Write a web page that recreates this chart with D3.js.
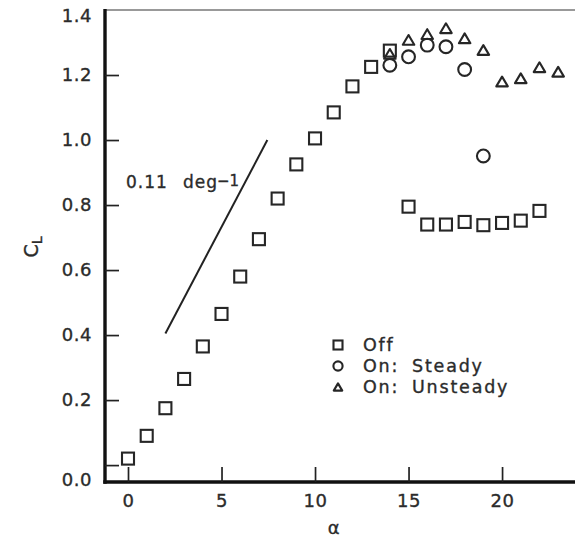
<!DOCTYPE html>
<html>
<head>
<meta charset="utf-8">
<script src="https://cdn.jsdelivr.net/npm/d3@7/dist/d3.min.js"></script>
<style>
  html, body { margin: 0; padding: 0; background: #fff; }
  svg { display: block; }
  text { font-family: "DejaVu Sans", Verdana, sans-serif; fill: #2b2b2b; stroke: #2b2b2b; stroke-width: 0.35px; }
</style>
</head>
<body>
<svg id="chart" width="575" height="540"></svg>
<script>
// ---- data ----
const alphaOff = [0, 1, 2, 3, 4, 5, 6, 7, 8, 9, 10, 11, 12, 13, 14, 15, 16, 17, 18, 19, 20, 21, 22];
const clOff    = [0.02, 0.09, 0.175, 0.265, 0.365, 0.465, 0.58, 0.695, 0.82, 0.925, 1.005, 1.085, 1.165, 1.225, 1.275,
                  0.795, 0.74, 0.74, 0.748, 0.738, 0.745, 0.752, 0.782];
const alphaSteady = [14, 15, 16, 17, 18, 19];
const clSteady    = [1.23, 1.256, 1.292, 1.287, 1.217, 0.951];
const alphaUnsteady = [14, 15, 16, 17, 18, 19, 20, 21, 22, 23];
const clUnsteady    = [1.265, 1.308, 1.326, 1.344, 1.313, 1.277, 1.18, 1.19, 1.224, 1.21];
const slopeAlpha = [2, 7.45];
const slopeCl    = [0.405, 1.0];
const xTicks = [0, 5, 10, 15, 20];
const yTicks = [0, 0.2, 0.4, 0.6, 0.8, 1.0, 1.2, 1.4];
const yTickLabels = ["0.0", "0.2", "0.4", "0.6", "0.8", "1.0", "1.2", "1.4"];
const legendLabels = [["Off", ""], ["On:", "Steady"], ["On:", "Unsteady"]];

// ---- scales ----
const svg = d3.select("#chart");
const x = d3.scaleLinear().domain([-1.23, 23.9]).range([105, 575]);
const y = d3.scaleLinear().domain([-0.052, 1.4]).range([482, 10]);

// top frame line
svg.append("line")
  .attr("x1", x.range()[0]).attr("x2", x.range()[1])
  .attr("y1", y(1.4)).attr("y2", y(1.4))
  .attr("stroke", "#999").attr("stroke-width", 2);

// x axis
const gx = svg.append("g").attr("transform", `translate(0,${y.range()[0]})`)
  .call(d3.axisBottom(x).tickValues(xTicks).tickSizeInner(-15).tickSizeOuter(0).tickPadding(12));
// y axis
const gy = svg.append("g").attr("transform", `translate(${x.range()[0]},0)`)
  .call(d3.axisLeft(y).tickValues(yTicks).tickSizeInner(-14).tickSizeOuter(0).tickPadding(13)
        .tickFormat((d, i) => yTickLabels[i]));

[gx, gy].forEach(g => {
  g.select(".domain").attr("stroke", "#111").attr("stroke-width", 3.4);
  g.selectAll(".tick line").attr("stroke", "#222").attr("stroke-width", 1.7);
  g.selectAll(".tick text").attr("font-size", 18).attr("letter-spacing", "0.5px")
    .attr("font-family", "DejaVu Sans").attr("fill", "#2b2b2b");
});
gy.selectAll(".tick").filter(d => d === 1.4).select("line").remove();
gy.selectAll(".tick").filter(d => d === 0).select("text").attr("y", 15);
gy.selectAll(".tick").filter(d => d === 1.4).select("text").attr("y", 6);
gx.select(".domain").attr("d", `M${x.range()[0] - 1.7},0H${x.range()[1]}`);
gy.select(".domain").attr("d", `M0,${y.range()[1] - 1}V${y.range()[0] + 1.7}`);

// axis titles
svg.append("text").attr("x", x(11)).attr("y", 527)
  .attr("text-anchor", "middle").attr("dominant-baseline", "central")
  .attr("font-size", 18).text("α");

const cl = svg.append("text").attr("transform", "translate(31,247) rotate(-90)")
  .attr("text-anchor", "middle").attr("dominant-baseline", "central").attr("font-size", 19);
cl.append("tspan").text("C");
cl.append("tspan").attr("font-size", 14).attr("dy", 6).text("L");

// slope line
const slopeData = slopeAlpha.map((a, i) => [a, slopeCl[i]]);
svg.append("path").datum(slopeData)
  .attr("d", d3.line().x(d => x(d[0])).y(d => y(d[1])))
  .attr("stroke", "#222").attr("stroke-width", 2).attr("fill", "none");

const ann = svg.append("text").attr("x", 126).attr("y", 188).attr("font-size", 17).attr("letter-spacing", "1px");
ann.append("tspan").text("0.11");
ann.append("tspan").attr("x", 183).text("deg");
ann.append("tspan").attr("x", 217).attr("dy", -2).attr("font-size", 15).attr("letter-spacing", "0px").text("−1");

// markers
const markStroke = "#262626";
function square(g, cx, cy, s) {
  g.append("rect").attr("x", cx - s / 2).attr("y", cy - s / 2).attr("width", s).attr("height", s)
    .attr("fill", "none").attr("stroke", markStroke).attr("stroke-width", 2.1);
}
function circle(g, cx, cy, r) {
  g.append("circle").attr("cx", cx).attr("cy", cy).attr("r", r)
    .attr("fill", "none").attr("stroke", markStroke).attr("stroke-width", 2.1);
}
function triangle(g, cx, cy, w) {
  const h = w * 0.85;
  g.append("path").attr("d", `M${cx},${cy - h / 2}L${cx + w / 2},${cy + h / 2}L${cx - w / 2},${cy + h / 2}Z`)
    .attr("fill", "none").attr("stroke", markStroke).attr("stroke-width", 2.1).attr("stroke-linejoin", "round");
}

const gm = svg.append("g");
alphaOff.forEach((a, i) => square(gm, x(a), y(clOff[i]), 12));
alphaSteady.forEach((a, i) => circle(gm, x(a), y(clSteady[i]), 6.4));
alphaUnsteady.forEach((a, i) => triangle(gm, x(a), y(clUnsteady[i]), 11.5));

// legend
const lg = svg.append("g");
const legY = [345, 366, 387];
const legFns = [(g, cx, cy) => square(g, cx, cy, 9), (g, cx, cy) => circle(g, cx, cy, 4.6), (g, cx, cy) => triangle(g, cx, cy, 8.5)];
legendLabels.forEach((lab, i) => {
  legFns[i](lg, 338, legY[i]);
  const t = lg.append("text").attr("x", 363).attr("y", legY[i]).attr("dominant-baseline", "central")
    .attr("font-size", 17.5).attr("letter-spacing", "1.8px");
  t.append("tspan").text(lab[0]);
  if (lab[1]) t.append("tspan").attr("x", 412).text(lab[1]);
});
</script>
</body>
</html>
